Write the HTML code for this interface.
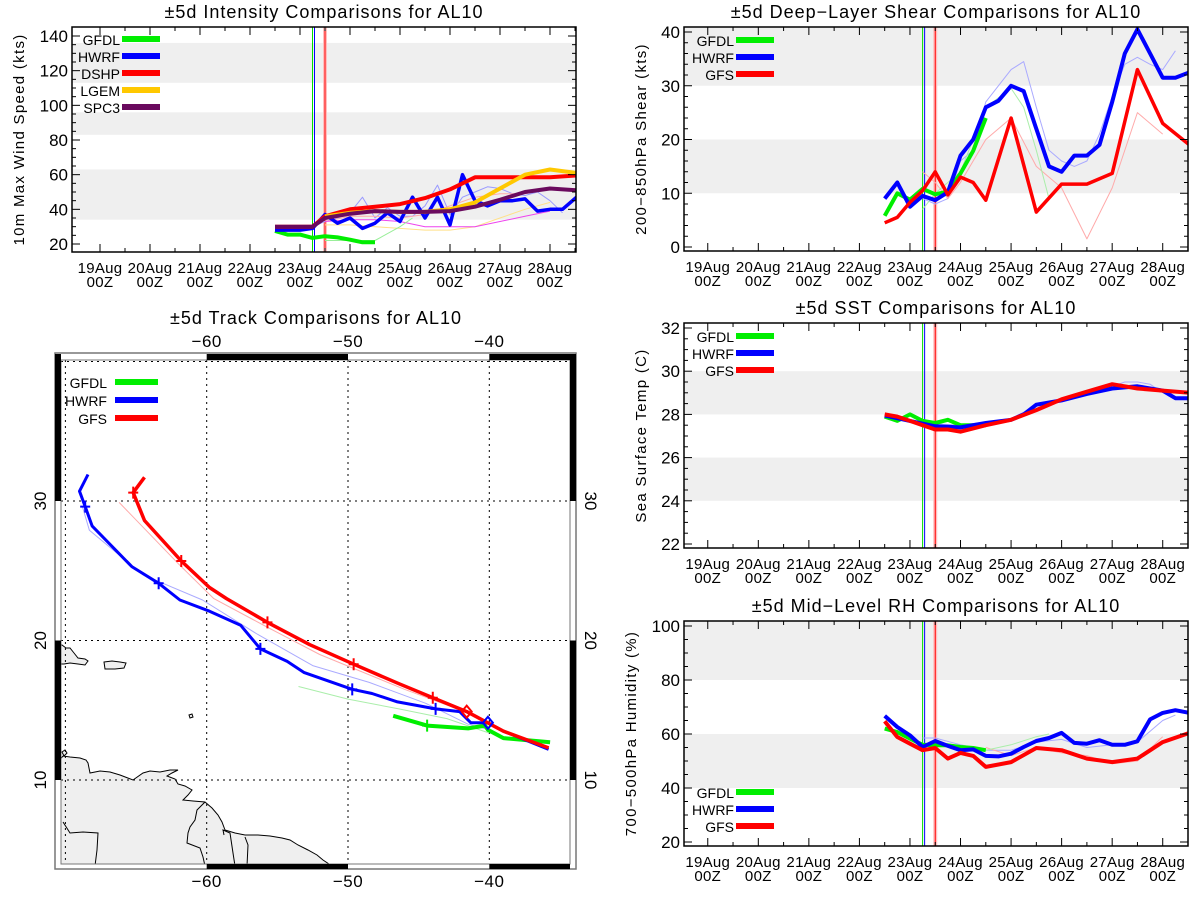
<!DOCTYPE html>
<html><head><meta charset="utf-8"><style>
body{margin:0;background:#fff}
svg{display:block;font-family:"Liberation Sans",sans-serif}
</style></head><body>
<svg id="root" width="1200" height="900" viewBox="0 0 1200 900" xmlns="http://www.w3.org/2000/svg"></svg>
<script>
// ---------- DATA ----------
const dayLabels = ["19Aug","20Aug","21Aug","22Aug","23Aug","24Aug","25Aug","26Aug","27Aug","28Aug"];
const initLines = [{d:4.25,c:"#00dd00"},{d:4.29,c:"#0000ff"},{d:4.5,c:"#ff0000"}];

// Intensity (kts)
const intTicks = [20,40,60,80,100,120,140];
const intBands = [[34,63],[83,96],[113,136]];
const gfdlIntT = [3.5,3.75,4.0,4.25,4.5,4.75,5.0,5.25,5.5];
const gfdlIntV = [27.5,25.4,25.4,23.5,24.5,23.8,22.5,21,21];
const hwrfIntT = [3.5,3.75,4.0,4.25,4.5,4.75,5.0,5.25,5.5,5.75,6.0,6.25,6.5,6.75,7.0,7.25,7.5,7.75,8.0,8.25,8.5,8.75,9.0,9.25,9.53];
const hwrfIntV = [28,28,28,29,37,32,35,29,32,38,33,47,35,47,31,60,45,42,45,45,46,39,40,40,47];
const dshpIntT = [3.5,4.0,4.25,4.5,5.0,5.5,6.0,6.5,7.0,7.5,8.0,8.5,9.0,9.53];
const dshpIntV = [30,30,30,36,40,41.5,43,46.5,51.5,58.5,58.5,58.5,58.5,59.5];
const lgemIntT = [4.5,5.0,5.5,6.0,6.5,7.0,7.5,8.0,8.5,9.0,9.53];
const lgemIntV = [36,38,39,38.5,38.5,40,44,52,60,63,61];
const spc3IntT = [3.5,4.0,4.25,4.5,5.0,5.5,6.0,6.5,7.0,7.5,8.0,8.5,9.0,9.53];
const spc3IntV = [30,30,30,35,37.5,39,38.5,38.5,39,41.5,45.5,50,52,51];
const hwrfOldIntT = [4.25,4.5,4.75,5.0,5.25,5.5,5.75,6.0,6.25,6.5,6.75,7.0,7.25,7.5,7.75,8.0,8.25,8.5,8.75,9.0,9.25];
const hwrfOldIntV = [30,33,35,38,47,35,41,36,36,42,54,37,47,50,53,52,49,48,50,45,38];
const dshpOldIntT = [4.5,5.0,5.5,6.0,6.5,7.0,7.5,8.0,8.5,9.0,9.5];
const dshpOldIntV = [33,36,36,35,37,42,47,49,49,52,52];
const lgemOldIntT = [4.5,5.0,5.5,6.0,6.5,7.0,7.5,8.0,8.5,9.0];
const lgemOldIntV = [31,31,30,29,28,28,30,35,40,44];
const spc3OldIntT = [4.5,5.0,5.5,6.0,6.5,7.0,7.5,8.0,8.5,9.0];
const spc3OldIntV = [33,34,34,33,30,30,30,33,36,39];
const gfdlOldIntT = [4.5,5.0,5.5,6.0,6.25];
const gfdlOldIntV = [22,22,22,30,35];

// Shear (kts)
const shrTicks = [0,10,20,30,40];
const shrBands = [[10,20],[30,42]];
const gfdlShrT = [3.5,3.75,4.0,4.25,4.5,4.75,5.0,5.25,5.5];
const gfdlShrV = [5.8,10,8.8,10.8,9.8,10.3,13.7,17.9,24];
const hwrfShrT = [3.5,3.75,4.0,4.25,4.5,4.75,5.0,5.25,5.5,5.75,6.0,6.25,6.5,6.75,7.0,7.25,7.5,7.75,8.0,8.25,8.5,8.75,9.0,9.25,9.53];
const hwrfShrV = [9,12,7.5,9.5,8.7,10.2,17,20,26,27.2,30,29,22,15,14,17,17,19,27,36,40.5,36,31.5,31.5,32.5];
const gfsShrT = [3.5,3.75,4.0,4.25,4.5,4.75,5.0,5.25,5.5,6.0,6.5,7.0,7.5,8.0,8.5,9.0,9.53];
const gfsShrV = [4.5,5.5,8.3,10.5,14,9.7,13,12,8.7,24,6.5,11.7,11.7,13.7,33,23,19];
const hwrfOldShrT = [4.25,4.5,4.75,5.0,5.25,5.5,5.75,6.0,6.25,6.5,6.75,7.0,7.25,7.5,7.75,8.0,8.25,8.5,8.75,9.0,9.25];
const hwrfOldShrV = [9,8,9,16,18,27,30,33,34.5,26,18,16,15,16,21,28,34,35.3,34,33,36.5];
const gfsOldShrT = [4.25,4.5,4.75,5.0,5.5,6.0,6.5,7.0,7.5,8.0,8.5,9.0];
const gfsOldShrV = [14,12,9,12,20,24,15,11,1.5,11,25,21];
const gfdlOldShrT = [4.25,4.5,5.0,5.5,6.0,6.25,6.5,6.75];
const gfdlOldShrV = [7,10,14,26,29.5,26,18,9];

// SST (C)
const sstTicks = [22,24,26,28,30,32];
const sstBands = [[24,26],[28,30]];
const gfdlSstT = [3.5,3.75,4.0,4.25,4.5,4.75,5.0,5.25,5.5];
const gfdlSstV = [27.9,27.7,28.0,27.7,27.6,27.75,27.5,27.5,27.5];
const hwrfSstT = [3.5,4.0,4.5,5.0,5.5,6.0,6.25,6.5,7.0,7.5,8.0,8.5,9.0,9.25,9.53];
const hwrfSstV = [27.95,27.7,27.45,27.4,27.6,27.75,28.0,28.45,28.65,28.95,29.2,29.3,29.1,28.75,28.75];
const gfsSstT = [3.5,3.75,4.0,4.25,4.5,4.75,5.0,5.5,6.0,6.5,7.0,7.5,8.0,8.5,9.0,9.53];
const gfsSstV = [28.0,27.9,27.7,27.5,27.3,27.3,27.2,27.5,27.75,28.2,28.7,29.05,29.4,29.2,29.1,29.0];
const hwrfOldSstT = [4.25,5.0,6.0,6.5,7.0,7.5,8.0,8.25,8.5,8.75,9.0];
const hwrfOldSstV = [27.6,27.5,27.8,28.4,28.7,29.0,29.3,29.5,29.5,29.4,29.0];

// RH (%)
const rhTicks = [20,40,60,80,100];
const rhBands = [[40,60],[80,102]];
const gfdlRhT = [3.5,3.75,4.0,4.25,4.5,4.75,5.0,5.25,5.5];
const gfdlRhV = [62,60.7,58.3,56,55.8,55.8,55.2,54.8,54];
const hwrfRhT = [3.5,3.75,4.0,4.25,4.5,4.75,5.0,5.25,5.5,5.75,6.0,6.25,6.5,6.75,7.0,7.25,7.5,7.75,8.0,8.25,8.5,8.75,9.0,9.25,9.53];
const hwrfRhV = [66.7,62.6,59.5,55.2,57.4,55.6,54,54.3,51.9,51.7,52.7,55.2,57.4,58.5,60.4,56.7,56.4,57.7,56,56,57.3,65.4,67.8,68.8,67.8];
const gfsRhT = [3.5,3.75,4.0,4.25,4.5,4.75,5.0,5.25,5.5,6.0,6.5,7.0,7.5,8.0,8.5,9.0,9.53];
const gfsRhV = [64.7,58.9,56.4,54,54.8,50.9,53,51.9,47.8,49.6,54.8,54,50.9,49.6,50.9,57,60.4];
const hwrfOldRhT = [4.25,4.5,5.0,5.5,6.0,6.5,7.0,7.5,8.0,8.5,9.0,9.25];
const hwrfOldRhV = [58.5,58.5,56,54,54,57,58,55,56,57,65,67];
const gfsOldRhT = [5.5,6.0,6.5,7.0,7.5,8.0,8.5,9.0];
const gfsOldRhV = [55,52,55,53,52,49,50,59];
const gfdlOldRhT = [5.5,6.0,6.5,6.75];
const gfdlOldRhV = [54,56,59,60];

// Tracks (lon, lat)
const lonTicks = [-60,-50,-40];
const latTicks = [10,20,30];
const hwrfLon = [-68.4,-69.0,-68.6,-68.1,-65.3,-63.4,-61.9,-59.8,-57.6,-56.2,-54.3,-53.1,-49.7,-48.3,-46.5,-43.8,-42.1,-41.3,-40.1,-39.0,-35.8];
const hwrfLat = [31.9,30.7,29.6,28.2,25.3,24.1,22.9,22.1,21.1,19.4,18.5,17.7,16.5,16.2,15.6,15.1,14.9,14.1,14.1,13.5,12.2];
const hwrfCross = [2,5,9,12,15];
const gfsLon = [-64.4,-65.2,-64.4,-61.8,-59.8,-58.6,-55.7,-52.7,-49.6,-46.4,-44.0,-41.6,-39.0,-35.8];
const gfsLat = [31.7,30.6,28.6,25.7,23.8,23.0,21.3,19.7,18.3,16.9,15.9,14.9,13.5,12.3];
const gfsCross = [1,3,6,8,10];
const gfdlLon = [-46.8,-44.4,-41.5,-40.3,-40.1,-39.0,-35.7];
const gfdlLat = [14.6,13.9,13.7,13.9,13.6,13.0,12.7];
const gfdlCross = [1];
const hwrfOldLon = [-68.8,-68.3,-64.5,-60.3,-56.5,-52.5,-48.5,-44.5,-41.5,-40.0];
const hwrfOldLat = [29.6,27.9,24.7,22.9,20.5,18.2,17.0,15.5,14.0,13.6];
const gfsOldLon = [-66.2,-62.0,-59.5,-55.8,-52.0,-46.0,-42.0,-40.0];
const gfsOldLat = [29.9,25.5,23.0,21.0,19.0,16.5,15.0,14.0];
const gfdlOldLon = [-53.5,-50.0,-46.4,-43.0,-40.1];
const gfdlOldLat = [16.7,15.8,15.1,14.4,13.4];

// ---------- DRAWING ----------
const NS="http://www.w3.org/2000/svg";
const root=document.getElementById('root');
function el(tag,attrs,parent){const e=document.createElementNS(NS,tag);for(const k in attrs)e.setAttribute(k,attrs[k]);(parent||root).appendChild(e);return e;}
function txt(s,attrs,parent){const e=el('text',attrs,parent);e.textContent=s;return e;}
const GREEN="#00ee00",BLUE="#0000ff",RED="#ff0000";

function panel(cfg){
  const g=el('g',{});
  
  
  const L=cfg.x0,R=cfg.x1,T=cfg.y0,B=cfg.y1;
  const xs=d=>L+(d-cfg.dmin)*(R-L)/(cfg.dmax-cfg.dmin);
  const ys=v=>cfg.yb-(v-cfg.vb)*(cfg.yb-cfg.yt)/(cfg.vt-cfg.vb);
  const cid='clip'+cfg.name;
  const cp=el('clipPath',{id:cid},g);el('rect',{x:L,y:T,width:R-L,height:B-T},cp);
  cfg.bands.forEach(b=>{
    const y1=Math.max(T,ys(b[1])),y2=Math.min(B,ys(b[0]));
    const r=el('rect',{x:L,y:y1,width:R-L,height:y2-y1,fill:'#efefef'},g);
    
    
  });
  initLines.forEach(l=>{
    const x=xs(l.d);
    if(l.c=="#ff0000") el('rect',{x:x-2,y:T,width:4,height:B-T,fill:'#ffc0c0'},g);
    const ln=el('line',{x1:x,x2:x,y1:T,y2:B,stroke:l.c,'stroke-width':1},g);
    
    
  });
  const sg=el('g',{'clip-path':'url(#'+cid+')'},g);
  cfg.series.forEach(s=>{
    const pts=s.t.map((t,i)=>xs(t).toFixed(1)+','+ys(s.v[i]).toFixed(1)).join(' ');
    const p=el('polyline',{points:pts,fill:'none',stroke:s.c,'stroke-width':s.w,'stroke-linejoin':'round'},sg);
    
    
  });
  el('rect',{x:L,y:T,width:R-L,height:B-T,fill:'none',stroke:'#000','stroke-width':1.5},g);
  for(let h=0;h<=19;h++){
    const dd=h*0.5; if(dd>cfg.dmax)break;
    const x=xs(dd),len=(h%2==0)?8:4;
    el('line',{x1:x,x2:x,y1:B,y2:B-len,stroke:'#000'},g);
    el('line',{x1:x,x2:x,y1:T,y2:T+len,stroke:'#000'},g);
  }
  dayLabels.forEach((s,i)=>{
    const x=xs(i);
    const t1=txt(s,{x:x,y:B+21,'font-size':15,'text-anchor':'middle','letter-spacing':0.3},g);
    
    
    txt('00Z',{x:x,y:B+35,'font-size':15,'text-anchor':'middle','letter-spacing':0.3},g);
  });
  for(let v=cfg.ticks[0];v<=cfg.ticks[cfg.ticks.length-1]+1e-6;v+=cfg.minor){
    const y=ys(v); if(y<T-0.5)break;
    const major=cfg.ticks.some(t=>Math.abs(t-v)<1e-6),len=major?8:4;
    el('line',{x1:L,x2:L+len,y1:y,y2:y,stroke:'#000'},g);
    el('line',{x1:R,x2:R-len,y1:y,y2:y,stroke:'#000'},g);
  }
  cfg.ticks.forEach(v=>{
    const t=txt(String(v),{x:L-4,y:ys(v)+6,'font-size':17,'text-anchor':'end'},g);
    
    
  });
  const cx=(L+R)/2;
  const tt=txt(cfg.title,{x:cx,y:T-9,'font-size':18,'text-anchor':'middle','letter-spacing':1},g);
  
  
  const yy=(T+B)/2;
  const ya=txt(cfg.ytitle,{x:cfg.ytx,y:yy,'font-size':15,'text-anchor':'middle','letter-spacing':1.3,transform:'rotate(-90 '+cfg.ytx+' '+yy+')'},g);
  
  
  cfg.legend.forEach((e,i)=>{
    const y=cfg.legY+i*17;
    const lg=el('g',{},g);
    
    
    txt(e[0],{x:cfg.legX-2,y:y+6,'font-size':14,'text-anchor':'end'},lg);
    el('line',{x1:cfg.legX,x2:cfg.legX+38,y1:y,y2:y,stroke:e[1],'stroke-width':6},lg);
  });
}

panel({name:'intensity-panel',x0:72,x1:576,y0:27,y1:252,dmin:-0.56,dmax:9.52,yb:244,vb:20,yt:36,vt:140,ticks:intTicks,minor:5,bands:intBands,
 title:'±5d Intensity Comparisons for AL10',ytitle:'10m Max Wind Speed (kts)',ytx:24,legX:122,legY:39,
 legend:[['GFDL',GREEN],['HWRF',BLUE],['DSHP',RED],['LGEM','#ffc800'],['SPC3','#6a0a5e']],
 series:[
  {n:'hwrf-prev-line',t:hwrfOldIntT,v:hwrfOldIntV,c:'#9999ff',w:1},
  {n:'dshp-prev-line',t:dshpOldIntT,v:dshpOldIntV,c:'#ffaaaa',w:1},
  {n:'lgem-prev-line',t:lgemOldIntT,v:lgemOldIntV,c:'#ffe08a',w:1},
  {n:'spc3-prev-line',t:spc3OldIntT,v:spc3OldIntV,c:'#ee44ee',w:1},
  {n:'gfdl-prev-line',t:gfdlOldIntT,v:gfdlOldIntV,c:'#99ee99',w:1},
  {n:'gfdl-line',t:gfdlIntT,v:gfdlIntV,c:GREEN,w:4},
  {n:'hwrf-line',t:hwrfIntT,v:hwrfIntV,c:BLUE,w:3.5},
  {n:'dshp-line',t:dshpIntT,v:dshpIntV,c:RED,w:4},
  {n:'lgem-line',t:lgemIntT,v:lgemIntV,c:'#ffc800',w:4},
  {n:'spc3-line',t:spc3IntT,v:spc3IntV,c:'#6a0a5e',w:4}]});

panel({name:'shear-panel',x0:684,x1:1188,y0:27,y1:251,dmin:-0.47,dmax:9.5,yb:247,vb:0,yt:32,vt:40,ticks:shrTicks,minor:2,bands:shrBands,
 title:'±5d Deep−Layer Shear Comparisons for AL10',ytitle:'200−850hPa Shear (kts)',ytx:646,legX:736,legY:40,
 legend:[['GFDL',GREEN],['HWRF',BLUE],['GFS',RED]],
 series:[
  {n:'hwrf-prev-line',t:hwrfOldShrT,v:hwrfOldShrV,c:'#aaaaff',w:1},
  {n:'gfs-prev-line',t:gfsOldShrT,v:gfsOldShrV,c:'#ffaaaa',w:1},
  {n:'gfdl-prev-line',t:gfdlOldShrT,v:gfdlOldShrV,c:'#aaeeaa',w:1},
  {n:'gfdl-line',t:gfdlShrT,v:gfdlShrV,c:GREEN,w:4},
  {n:'hwrf-line',t:hwrfShrT,v:hwrfShrV,c:BLUE,w:4},
  {n:'gfs-line',t:gfsShrT,v:gfsShrV,c:RED,w:3.5}]});

panel({name:'sst-panel',x0:684,x1:1188,y0:323,y1:548,dmin:-0.47,dmax:9.5,yb:544,vb:22,yt:328,vt:32,ticks:sstTicks,minor:0.5,bands:sstBands,
 title:'±5d SST Comparisons for AL10',ytitle:'Sea Surface Temp (C)',ytx:646,legX:736,legY:336,
 legend:[['GFDL',GREEN],['HWRF',BLUE],['GFS',RED]],
 series:[
  {n:'hwrf-prev-line',t:hwrfOldSstT,v:hwrfOldSstV,c:'#aaaaff',w:1},
  {n:'gfdl-line',t:gfdlSstT,v:gfdlSstV,c:GREEN,w:4},
  {n:'hwrf-line',t:hwrfSstT,v:hwrfSstV,c:BLUE,w:4},
  {n:'gfs-line',t:gfsSstT,v:gfsSstV,c:RED,w:4}]});

panel({name:'rh-panel',x0:684,x1:1188,y0:621,y1:846,dmin:-0.47,dmax:9.5,yb:842,vb:20,yt:626,vt:100,ticks:rhTicks,minor:5,bands:rhBands,
 title:'±5d Mid−Level RH Comparisons for AL10',ytitle:'700−500hPa Humidity (%)',ytx:636,legX:736,legY:792,
 legend:[['GFDL',GREEN],['HWRF',BLUE],['GFS',RED]],
 series:[
  {n:'hwrf-prev-line',t:hwrfOldRhT,v:hwrfOldRhV,c:'#aaaaff',w:1},
  {n:'gfs-prev-line',t:gfsOldRhT,v:gfsOldRhV,c:'#ffaaaa',w:1},
  {n:'gfdl-prev-line',t:gfdlOldRhT,v:gfdlOldRhV,c:'#aaeeaa',w:1},
  {n:'gfdl-line',t:gfdlRhT,v:gfdlRhV,c:GREEN,w:4},
  {n:'hwrf-line',t:hwrfRhT,v:hwrfRhV,c:BLUE,w:4},
  {n:'gfs-line',t:gfsRhT,v:gfsRhV,c:RED,w:4}]});

// ---------- TRACK MAP ----------
(function(){
  const g=el('g',{});
  
  
  const L=61,R=570,T=360,B=864;
  const mx=lon=>206.7+(lon+60)*14.13;
  const my=lat=>501-(lat-30)*13.95;
  const tt=txt('±5d Track Comparisons for AL10',{x:316,y:324,'font-size':18,'text-anchor':'middle','letter-spacing':1},g);
  
  
  const cp=el('clipPath',{id:'mapclip'},g);el('rect',{x:L,y:T,width:R-L,height:B-T},cp);
  const land=el('g',{'clip-path':'url(#mapclip)'},g);
  
  
  const sty={fill:'#efefef',stroke:'#000','stroke-width':1};
  el('polygon',Object.assign({points:'58,762 63,756 70,757 80,758 86,760 88,763 90,773 100,771 110,772 120,775 133,780 143,773 150,771 160,772 170,770 178,770 172,773 167,776 175,779 178,784 185,786 192,790 188,795 183,800 193,801 205,802 212,808 218,815 222,822 225,830 235,833 245,835 258,835 270,836 282,838 290,840 298,845 308,850 317,855 323,860 329,864 329,870 58,870'},sty),land);
  el('polygon',Object.assign({points:'58,645 62,645 66,648 70,648 74,653 78,658 85,659 88,661 85,665 78,664 70,663 64,664 58,664'},sty),land);
  el('polygon',Object.assign({points:'104,662 112,661 120,662 126,663 124,668 115,669 105,669'},sty),land);
  el('polygon',Object.assign({points:'189,715 192,714 193,717 190,718'},sty),land);
  el('polygon',Object.assign({points:'62,752 65,750 67,753 64,756'},sty),land);
  const bstyle={fill:'none',stroke:'#000','stroke-width':1};
  el('polyline',Object.assign({points:'205,802 197,810 195,820 190,827 188,833 187,843 200,848 203,857 205,866'},bstyle),land);
  el('polyline',Object.assign({points:'224,835 223,830 230,833 233,853 235,866'},bstyle),land);
  el('polyline',Object.assign({points:'245,837 248,845 247,866'},bstyle),land);
  el('polyline',Object.assign({points:'63,822 70,833 83,832 98,833 97,850 95,866'},bstyle),land);
  lonTicks.concat([-70]).forEach(lo=>{el('line',{x1:mx(lo),x2:mx(lo),y1:T,y2:B,stroke:'#000','stroke-dasharray':'2,4','stroke-width':1},g);});
  latTicks.concat([40]).forEach(la=>{el('line',{x1:L,x2:R,y1:my(la),y2:my(la),stroke:'#000','stroke-dasharray':'2,4','stroke-width':1},g);});
  const tg=el('g',{'clip-path':'url(#mapclip)'},g);
  function track(n,lon,lat,c,w){
    const p=el('polyline',{points:lon.map((x,i)=>mx(x).toFixed(1)+','+my(lat[i]).toFixed(1)).join(' '),fill:'none',stroke:c,'stroke-width':w,'stroke-linejoin':'round'},tg);
    
    
  }
  function crosses(lon,lat,idx,c){
    idx.forEach(i=>{const x=mx(lon[i]),y=my(lat[i]);
      el('path',{d:`M${x-5},${y}H${x+5}M${x},${y-6}V${y+6}`,stroke:c,'stroke-width':2},tg);});
  }
  function diamond(lo,la,c){const x=mx(lo),y=my(la);
    el('path',{d:`M${x},${y-6}L${x+5},${y}L${x},${y+6}L${x-5},${y}Z`,fill:'none',stroke:c,'stroke-width':2},tg);}
  track('hwrf-prev-track',hwrfOldLon,hwrfOldLat,'#aaaaff',1);
  track('gfs-prev-track',gfsOldLon,gfsOldLat,'#ffaaaa',1);
  track('gfdl-prev-track',gfdlOldLon,gfdlOldLat,'#aaeeaa',1);
  track('gfdl-track',gfdlLon,gfdlLat,GREEN,4);
  track('hwrf-track',hwrfLon,hwrfLat,BLUE,3);
  track('gfs-track',gfsLon,gfsLat,RED,3.5);
  crosses(gfdlLon,gfdlLat,gfdlCross,GREEN);
  crosses(hwrfLon,hwrfLat,hwrfCross,BLUE);
  crosses(gfsLon,gfsLat,gfsCross,RED);
  diamond(gfsLon[11],gfsLat[11],RED);
  diamond(hwrfLon[18],hwrfLat[18],BLUE);
  el('rect',{x:55,y:353,width:521,height:516,fill:'none',stroke:'#777','stroke-width':1.5},g);
  el('rect',{x:L,y:T,width:R-L,height:B-T,fill:'none',stroke:'#777','stroke-width':1},g);
  el('rect',{x:mx(-60),y:354,width:mx(-50)-mx(-60),height:6,fill:'#000'},g);
  el('rect',{x:mx(-40),y:354,width:R-mx(-40)+5,height:6,fill:'#000'},g);
  el('rect',{x:mx(-60),y:B,width:mx(-50)-mx(-60),height:5,fill:'#000'},g);
  el('rect',{x:mx(-40),y:B,width:R-mx(-40),height:5,fill:'#000'},g);
  el('rect',{x:55,y:354,width:6,height:my(30)-354,fill:'#000'},g);
  el('rect',{x:55,y:my(20),width:6,height:my(10)-my(20),fill:'#000'},g);
  el('rect',{x:R,y:354,width:6,height:my(30)-354,fill:'#000'},g);
  el('rect',{x:R,y:my(20),width:6,height:my(10)-my(20),fill:'#000'},g);
  lonTicks.forEach(lo=>{
    const a=txt('−'+(-lo),{x:mx(lo),y:347,'font-size':17,'text-anchor':'middle','letter-spacing':0.5},g);
    
    
    txt('−'+(-lo),{x:mx(lo),y:887,'font-size':17,'text-anchor':'middle','letter-spacing':0.5},g);
  });
  latTicks.forEach(la=>{
    const y=my(la);
    const a=txt(String(la),{x:46,y:y,'font-size':17,'text-anchor':'middle',transform:`rotate(-90 46 ${y})`},g);
    
    
    txt(String(la),{x:585,y:y,'font-size':17,'text-anchor':'middle',transform:`rotate(90 585 ${y})`},g);
  });
  [['GFDL',GREEN],['HWRF',BLUE],['GFS',RED]].forEach((e,i)=>{
    const y=382+i*18;
    const lg=el('g',{},g);
    
    
    txt(e[0],{x:107,y:y+6,'font-size':14,'text-anchor':'end'},lg);
    el('line',{x1:115,x2:158,y1:y,y2:y,stroke:e[1],'stroke-width':6},lg);
  });
})();
</script>
</body></html>
